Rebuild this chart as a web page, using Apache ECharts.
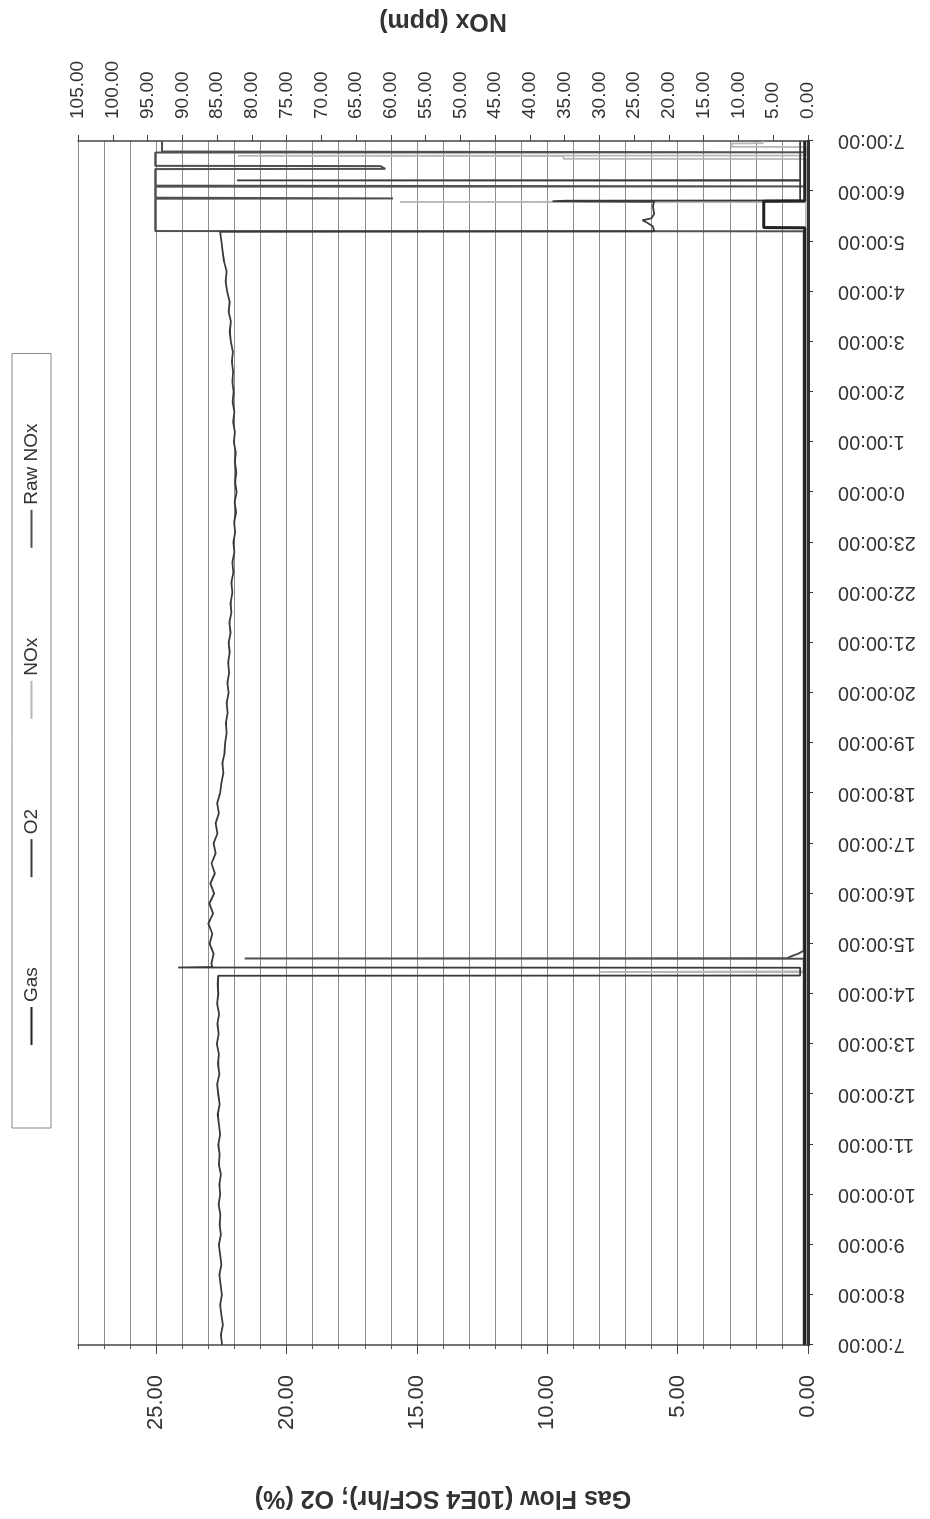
<!DOCTYPE html>
<html>
<head>
<meta charset="utf-8">
<script src="https://cdn.jsdelivr.net/npm/echarts@6/dist/echarts.min.js"></script>
<style>
html,body{margin:0;padding:0;background:#fff;width:930px;height:1519px;overflow:hidden;}
#wrap{position:absolute;left:0;top:0;width:1519px;height:930px;transform-origin:0 0;transform:translate(0px,1519px) rotate(-90deg);}
#chart{width:1519px;height:930px;background:#fff;}
</style>
</head>
<body>
<div id="wrap"><div id="chart"></div></div>
<script>
// Time axis: hours after 7:00:00 (0 .. 24)
const timeTickLabels = ['7:00:00','8:00:00','9:00:00','10:00:00','11:00:00','12:00:00','13:00:00','14:00:00',
  '15:00:00','16:00:00','17:00:00','18:00:00','19:00:00','20:00:00','21:00:00','22:00:00','23:00:00',
  '0:00:00','1:00:00','2:00:00','3:00:00','4:00:00','5:00:00','6:00:00','7:00:00'];
const seriesNames = ['Gas','O2','NOx','Raw NOx'];

// Gas Flow (10E4 SCF/hr)
const gasHours  = [0, 22.27, 22.275, 22.8, 22.805, 24];
const gasValues = [0.12, 0.12, 1.7, 1.7, 0.12, 0.12];

// O2 (%)
const o2Hours = [
  0,0.2,0.4,0.6,0.8,1.0,1.2,1.4,1.6,1.8,2.0,2.2,2.4,2.6,2.8,3.0,3.2,3.4,3.6,3.8,4.0,4.2,4.4,4.6,4.8,5.0,5.2,5.4,5.6,5.8,6.0,6.2,6.4,6.6,6.8,7.0,7.2,
  7.36,7.365,7.52,7.525,7.535,
  7.6,7.8,8.0,8.2,8.4,8.6,8.8,9.0,9.2,9.4,9.6,9.8,10.0,10.2,10.4,10.6,10.8,11.0,11.2,11.4,11.6,11.8,12.0,12.2,12.4,12.6,12.8,
  13.0,13.2,13.4,13.6,13.8,14.0,14.2,14.4,14.6,14.8,15.0,15.2,15.4,15.6,15.8,16.0,16.2,16.4,16.6,16.8,17.0,17.2,17.4,17.6,17.8,
  18.0,18.2,18.4,18.6,18.8,19.0,19.2,19.4,19.6,19.8,20.0,20.2,20.4,20.6,20.8,21.0,21.2,21.4,21.6,21.8,22.0,
  22.19,22.2,22.3,22.38,22.42,22.46,22.55,22.7,22.79,22.8,22.81,22.815,23.21,23.215,23.22,24
];
const o2Values = [
  22.47,22.52,22.44,22.50,22.55,22.48,22.53,22.58,22.50,22.55,22.60,22.52,22.57,22.54,22.61,22.55,22.58,22.52,22.60,22.57,22.62,22.55,22.60,22.64,22.57,22.62,22.66,22.58,22.63,22.60,22.67,22.61,22.65,22.59,22.66,22.62,22.64,
  22.62,0.3,0.3,24.15,22.85,
  22.88,22.80,22.95,22.85,23.00,22.82,22.96,22.78,22.92,22.75,22.88,22.72,22.80,22.65,22.72,22.60,22.66,22.55,22.50,22.42,22.46,22.38,22.36,22.30,22.33,22.26,22.30,
  22.22,22.27,22.20,22.24,22.18,22.22,22.15,22.19,22.12,22.15,22.08,22.12,22.04,22.08,22.00,22.04,21.97,22.01,21.94,21.99,21.92,21.97,21.93,21.98,21.95,
  22.02,21.98,22.05,22.00,22.07,22.03,22.08,22.05,22.10,22.06,22.14,22.18,22.14,22.22,22.18,22.28,22.34,22.30,22.40,22.45,22.50,
  22.55,5.9,5.95,6.2,6.35,6.0,5.9,5.95,5.9,9.8,9.3,0.3,0.3,21.9,0.3,0.3
];

// NOx (ppm)
const noxHours  = [0, 7.43, 7.435, 7.445, 7.45, 22.78, 22.785, 22.79, 23.64, 23.645, 23.70, 23.705, 23.71, 23.88, 23.885, 23.95, 23.955, 24];
const noxValues = [0.3, 0.3, 30, 30, 0.3, 0.3, 58.7, 0.3, 0.3, 35.2, 35.2, 82, 0.3, 0.3, 11, 11, 6.5, 6.5];

// Raw NOx (ppm)
const rawHours  = [0, 7.70, 7.705, 7.71, 7.75, 7.80, 7.86, 22.2, 22.205, 22.85, 22.855, 22.865, 22.87, 23.09, 23.095, 23.105, 23.11,
  23.44, 23.445, 23.50, 23.505, 23.77, 23.775, 23.785, 23.79, 24];
const rawValues = [0.6, 0.6, 81, 3.0, 2.4, 1.4, 0.6, 0.6, 93.9, 93.9, 59.7, 59.7, 93.9, 93.9, 0.6, 0.6, 93.9,
  93.9, 60.8, 61.5, 93.9, 93.9, 0.6, 0.6, 92.9, 92.9];

function pairs(h, v) { return h.map((t, i) => [t, v[i]]); }

const chart = echarts.init(document.getElementById('chart'), null, { renderer: 'canvas' });
const txt = '#333';
const font = 'Liberation Sans, Arial, sans-serif';

chart.setOption({
  animation: false,
  backgroundColor: '#fff',
  textStyle: { fontFamily: font },
  grid: { left: 174, right: 140, top: 78, bottom: 122, containLabel: false },
  legend: {
    data: seriesNames,
    left: 391, top: 12,
    orient: 'horizontal',
    icon: 'rect',
    padding: [10, 70, 10, 83],
    itemGap: 90, itemWidth: 38, itemHeight: 2,
    borderColor: '#888', borderWidth: 1,
    textStyle: { fontSize: 19, color: txt, fontFamily: font }
  },
  xAxis: {
    type: 'value', min: 0, max: 24, interval: 1, position: 'bottom',
    axisLine: { show: true, onZero: false, lineStyle: { color: '#333', width: 3 } },
    axisTick: { show: true, length: 5, lineStyle: { color: '#333' } },
    axisLabel: { rotate: 90, margin: 30, fontSize: 20, color: txt, fontFamily: font,
      formatter: v => timeTickLabels[Math.round(v)] },
    splitLine: { show: false }
  },
  yAxis: [
    {
      type: 'value', min: 0, max: 28, interval: 1, position: 'left',
      axisLine: { show: true, lineStyle: { color: '#444', width: 1.5 } },
      axisTick: { show: true, length: 4, lineStyle: { color: '#555' } },
      axisLabel: { show: false },
      splitLine: { show: true, lineStyle: { color: '#8c8c8c', width: 1 } }
    },
    {
      type: 'value', min: 0, max: 28, interval: 5, position: 'left',
      axisLine: { show: false },
      axisTick: { show: true, length: 9, lineStyle: { color: '#444' } },
      axisLabel: { margin: 30, fontSize: 22, color: txt, fontFamily: font, showMaxLabel: false,
        formatter: v => (v % 5 === 0 ? v.toFixed(2) : '') },
      splitLine: { show: false },
      name: 'Gas Flow (10E4 SCF/hr); O2 (%)', nameLocation: 'middle', nameRotate: 90, nameGap: 140,
      nameTextStyle: { fontSize: 25, fontWeight: 'bold', color: txt, fontFamily: font }
    },
    {
      type: 'value', min: 0, max: 105, interval: 5, position: 'right',
      axisLine: { show: true, lineStyle: { color: '#444', width: 1.5 } },
      axisTick: { show: true, length: 6, lineStyle: { color: '#444' } },
      axisLabel: { margin: 22, fontSize: 19, color: txt, fontFamily: font, formatter: v => v.toFixed(2) },
      splitLine: { show: false },
      name: 'NOx (ppm)', nameLocation: 'middle', nameRotate: 90, nameGap: 108,
      nameTextStyle: { fontSize: 25, fontWeight: 'bold', color: txt, fontFamily: font }
    }
  ],
  series: [
    { name: 'Gas', type: 'line', yAxisIndex: 0, data: pairs(gasHours, gasValues), symbol: 'none', showSymbol: false, z: 6,
      lineStyle: { color: '#222', width: 3 }, itemStyle: { color: '#222' } },
    { name: 'O2', type: 'line', yAxisIndex: 0, data: pairs(o2Hours, o2Values), symbol: 'none', showSymbol: false, z: 5,
      lineStyle: { color: '#3a3a3a', width: 1.8 }, itemStyle: { color: '#3a3a3a' } },
    { name: 'NOx', type: 'line', yAxisIndex: 2, data: pairs(noxHours, noxValues), symbol: 'none', showSymbol: false, z: 3,
      lineStyle: { color: '#b8b8b8', width: 1.8 }, itemStyle: { color: '#b8b8b8' } },
    { name: 'Raw NOx', type: 'line', yAxisIndex: 2, data: pairs(rawHours, rawValues), symbol: 'none', showSymbol: false, z: 4,
      lineStyle: { color: '#505050', width: 2 }, itemStyle: { color: '#505050' } }
  ]
});
</script>
</body>
</html>
